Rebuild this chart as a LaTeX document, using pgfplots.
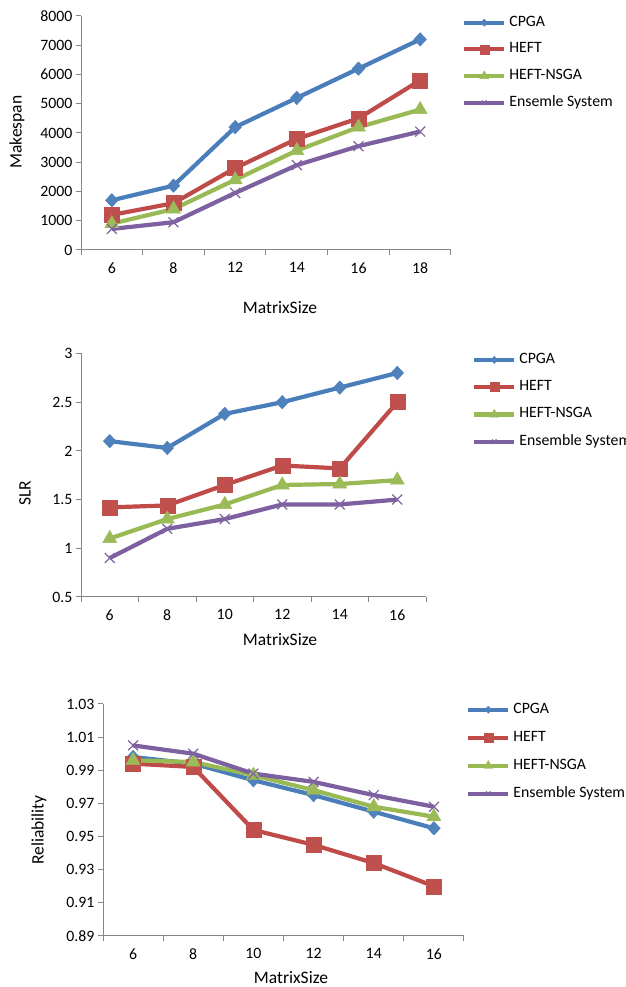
\documentclass[border=0pt]{standalone}
\usepackage{fontspec}
\setmainfont{Carlito}
\usepackage{pgfplots}
\pgfplotsset{compat=1.18}

\definecolor{cpga}{HTML}{4A7EBB}
\definecolor{cpgam}{HTML}{4F81BD}
\definecolor{heft}{HTML}{BE4B48}
\definecolor{heftm}{HTML}{C0504D}
\definecolor{nsga}{HTML}{98B954}
\definecolor{nsgam}{HTML}{9BBB59}
\definecolor{ens}{HTML}{7D60A0}
\definecolor{ensm}{HTML}{8064A2}
\definecolor{axgray}{HTML}{868686}

\newcommand{\tickfont}{\fontsize{15.8}{18}\selectfont}
\newcommand{\titlefont}{\fontsize{17.5}{20}\selectfont}

\pgfplotsset{
 base/.style={
  scale only axis,
  axis lines=left,
  axis line style={draw=axgray, line width=1pt, -},
  tick align=outside,
  tick style={draw=axgray, line width=1pt},
  major tick length=5pt,
  minor tick length=5pt,
  major x tick style={draw=none},
  xmin=-0.5, xmax=5.5,
  xtick={0,1,2,3,4,5},
  minor xtick={-0.5,0.5,1.5,2.5,3.5,4.5,5.5},
  ticklabel style={font=\tickfont, text=black},
  /pgf/number format/assume math mode=true,
  xticklabel style={yshift=-4pt},
  scaled y ticks=false,
  clip=false,
  legend cell align=left,
  legend image code/.code={\draw[mark repeat=2,mark phase=2,##1] plot coordinates {(0pt,0pt) (20pt,0pt) (40pt,0pt)};},
  legend style={draw=none, fill=none, font=\tickfont, anchor=north west, inner sep=0pt,
    /tikz/column sep=3pt,
    nodes={inner sep=0pt, text height=11pt, text depth=4pt}},
 },
 cpgaplot/.style={color=cpga, line width=4.2pt, mark=diamond*, mark size=6.8pt,
   mark options={solid, fill=cpgam, draw=cpgam, line width=0.4pt, xscale=1.25},
   legend image post style={mark size=3.6pt}},
 heftplot/.style={color=heft, line width=4.2pt, mark=square*, mark size=7.5pt,
   mark options={solid, fill=heftm, draw=heftm, line width=0.4pt},
   legend image post style={mark size=4.5pt}},
 nsgaplot/.style={color=nsga, line width=4.2pt, mark=triangle*, mark size=8.2pt,
   mark options={solid, fill=nsgam, draw=nsgam, line width=0.4pt},
   legend image post style={mark size=5.2pt}},
 ensplot/.style={color=ens, line width=4.2pt, mark=x, mark size=7pt,
   mark options={solid, draw=ensm, line width=1.2pt},
   legend image post style={mark size=3.2pt}},
}

\begin{document}
\begin{tikzpicture}
\useasboundingbox (0,0) rectangle (625pt,987pt);

% ---------- Chart 1: Makespan ----------
\begin{axis}[base,
  at={(81pt,737pt)}, anchor=south west,
  width=370pt, height=234pt,
  ymin=0, ymax=8000,
  ytick={0,1000,2000,3000,4000,5000,6000,7000,8000},
  /pgf/number format/1000 sep={},
  xticklabels={6,8,12,14,16,18},
  legend style={at={(1,1)}, xshift=11pt, yshift=1pt, /tikz/row sep=11.7pt},
]
\addplot[cpgaplot] coordinates {(0,1700) (1,2200) (2,4200) (3,5200) (4,6200) (5,7200)};
\addlegendentry{CPGA}
\addplot[heftplot] coordinates {(0,1200) (1,1600) (2,2800) (3,3800) (4,4500) (5,5800)};
\addlegendentry{HEFT}
\addplot[nsgaplot] coordinates {(0,900) (1,1400) (2,2400) (3,3400) (4,4200) (5,4800)};
\addlegendentry{HEFT-NSGA}
\addplot[ensplot] coordinates {(0,720) (1,950) (2,1950) (3,2900) (4,3550) (5,4050)};
\addlegendentry{Ensemle System}
\end{axis}

% ---------- Chart 2: SLR ----------
\begin{axis}[base,
  at={(81pt,390pt)}, anchor=south west,
  width=345pt, height=243.5pt,
  ymin=0.5, ymax=3,
  ytick={0.5,1,1.5,2,2.5,3},
  xticklabels={6,8,10,12,14,16},
  legend style={at={(1,1)}, xshift=46pt, yshift=1.3pt, /tikz/row sep=12.3pt},
]
\addplot[cpgaplot] coordinates {(0,2.10) (1,2.03) (2,2.38) (3,2.50) (4,2.65) (5,2.80)};
\addlegendentry{CPGA}
\addplot[heftplot] coordinates {(0,1.42) (1,1.44) (2,1.65) (3,1.85) (4,1.82) (5,2.50)};
\addlegendentry{HEFT}
\addplot[nsgaplot] coordinates {(0,1.10) (1,1.30) (2,1.45) (3,1.65) (4,1.66) (5,1.70)};
\addlegendentry{HEFT-NSGA}
\addplot[ensplot] coordinates {(0,0.90) (1,1.20) (2,1.30) (3,1.45) (4,1.45) (5,1.50)};
\addlegendentry{Ensemble System}
\end{axis}

% ---------- Chart 3: Reliability ----------
\begin{axis}[base,
  at={(103pt,51pt)}, anchor=south west,
  width=361pt, height=232pt,
  ymin=0.89, ymax=1.03,
  ytick={0.89,0.91,0.93,0.95,0.97,0.99,1.01,1.03},
  yticklabel style={/pgf/number format/.cd, fixed, fixed zerofill, precision=2},
  xticklabels={6,8,10,12,14,16},
  legend style={at={(1,1)}, xshift=2pt, yshift=2pt, /tikz/row sep=13pt},
]
\addplot[cpgaplot] coordinates {(0,0.998) (1,0.994) (2,0.984) (3,0.975) (4,0.965) (5,0.955)};
\addlegendentry{CPGA}
\addplot[heftplot] coordinates {(0,0.994) (1,0.992) (2,0.954) (3,0.945) (4,0.934) (5,0.920)};
\addlegendentry{HEFT}
\addplot[nsgaplot] coordinates {(0,0.996) (1,0.995) (2,0.987) (3,0.978) (4,0.968) (5,0.962)};
\addlegendentry{HEFT-NSGA}
\addplot[ensplot] coordinates {(0,1.005) (1,1.000) (2,0.988) (3,0.983) (4,0.975) (5,0.968)};
\addlegendentry{Ensemble System}
\end{axis}

% axis titles
\node[rotate=90, font=\titlefont] at (17pt,855pt) {Makespan};
\node[font=\titlefont] at (280pt,679pt) {MatrixSize};
\node[rotate=90, font=\titlefont] at (25pt,494pt) {SLR};
\node[font=\titlefont] at (280pt,347pt) {MatrixSize};
\node[rotate=90, font=\titlefont] at (39pt,157pt) {Reliability};
\node[font=\titlefont] at (291pt,9pt) {MatrixSize};
\end{tikzpicture}
\end{document}
